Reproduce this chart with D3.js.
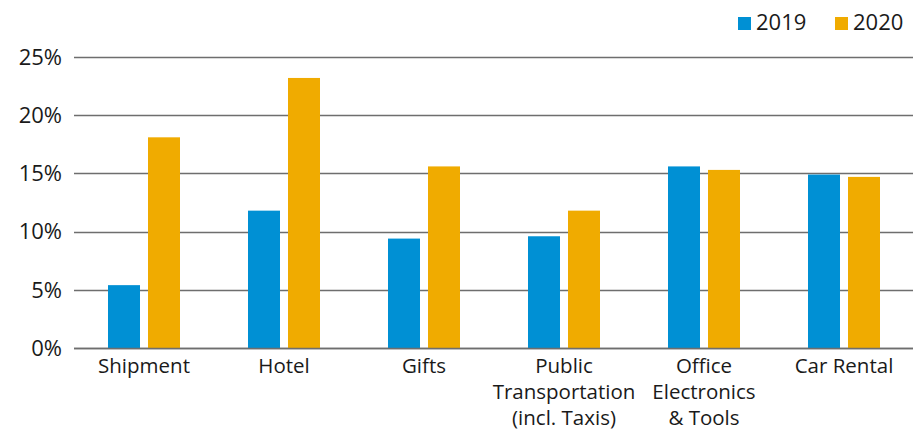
<!DOCTYPE html>
<html>
<head>
<meta charset="UTF-8">
<title>Spend share 2019 vs 2020</title>
<script src="https://cdn.jsdelivr.net/npm/d3@7"></script>
<style>
  body { margin: 0; background: #fff; }
  text { font-family: "Open Sans", sans-serif; fill: #1a1a1a; }
</style>
</head>
<body>
<script>
// data
var categories = [
  ["Shipment"],
  ["Hotel"],
  ["Gifts"],
  ["Public", "Transportation", "(incl. Taxis)"],
  ["Office", "Electronics", "& Tools"],
  ["Car Rental"]
];
var seriesNames = ["2019", "2020"];
var values2019 = [5.4, 11.8, 9.4, 9.6, 15.6, 14.9];
var values2020 = [18.1, 23.2, 15.6, 11.8, 15.3, 14.7];
var yTicks = [0, 5, 10, 15, 20, 25];
var colors = ["#0090d4", "#f0ab00"];

var width = 913, height = 431;
var margin = {top: 57, right: -1, bottom: 83, left: 74};

var svg = d3.select("body").append("svg")
  .attr("width", width)
  .attr("height", height);

var x = d3.scaleBand()
  .domain(d3.range(categories.length))
  .range([margin.left, width - margin.right]);

var x1 = d3.scaleBand()
  .domain(seriesNames)
  .range([34, 106]) // inside each 140px band
  .paddingInner(0.2);

var y = d3.scaleLinear()
  .domain([0, 25])
  .range([height - margin.bottom, margin.top]);

// gridlines
svg.append("g").selectAll("line")
  .data(yTicks)
  .enter().append("line")
  .attr("x1", margin.left)
  .attr("x2", width)
  .attr("y1", function(d) { return Math.round(y(d)) + 0.5; })
  .attr("y2", function(d) { return Math.round(y(d)) + 0.5; })
  .attr("stroke", "#6e6e6e")
  .attr("stroke-width", 1.6);

// y labels
svg.append("g").selectAll("text")
  .data(yTicks)
  .enter().append("text")
  .attr("x", 62)
  .attr("y", function(d) { return y(d); })
  .attr("dy", "0.35em")
  .attr("text-anchor", "end")
  .style("font-size", "22px")
  .text(function(d) { return d + "%"; });

// bars
var rows = categories.map(function(c, i) {
  return [{s: "2019", v: values2019[i], c: colors[0]}, {s: "2020", v: values2020[i], c: colors[1]}];
});

var groups = svg.append("g").selectAll("g")
  .data(rows)
  .enter().append("g")
  .attr("transform", function(d, i) { return "translate(" + x(i) + ",0)"; });

groups.selectAll("rect")
  .data(function(d) { return d; })
  .enter().append("rect")
  .attr("x", function(d) { return x1(d.s); })
  .attr("width", x1.bandwidth())
  .attr("y", function(d) { return y(d.v); })
  .attr("height", function(d) { return y(0) - y(d.v); })
  .attr("fill", function(d) { return d.c; });

// baseline on top
svg.append("line")
  .attr("x1", margin.left).attr("x2", width)
  .attr("y1", Math.round(y(0)) + 0.5).attr("y2", Math.round(y(0)) + 0.5)
  .attr("stroke", "#6e6e6e")
  .attr("stroke-width", 1.6);

// category labels
var labels = svg.append("g").selectAll("text")
  .data(categories)
  .enter().append("text")
  .attr("x", function(d, i) { return x(i) + x.bandwidth() / 2; })
  .attr("y", 373)
  .attr("text-anchor", "middle")
  .style("font-size", "20.5px");

labels.selectAll("tspan")
  .data(function(d) { return d; })
  .enter().append("tspan")
  .attr("x", function() { return this.parentNode.getAttribute("x"); })
  .attr("dy", function(d, i) { return i ? 26 : 0; })
  .text(function(d) { return d; });

// legend
var legend = svg.append("g").selectAll("g")
  .data(seriesNames)
  .enter().append("g")
  .attr("transform", function(d, i) { return "translate(" + (738 + i * 97) + ",17)"; });

legend.append("rect")
  .attr("width", 13)
  .attr("height", 13)
  .attr("fill", function(d, i) { return colors[i]; });

legend.append("text")
  .attr("x", 18)
  .attr("y", 13)
  .style("font-size", "22px")
  .text(function(d) { return d; });
</script>
</body>
</html>
